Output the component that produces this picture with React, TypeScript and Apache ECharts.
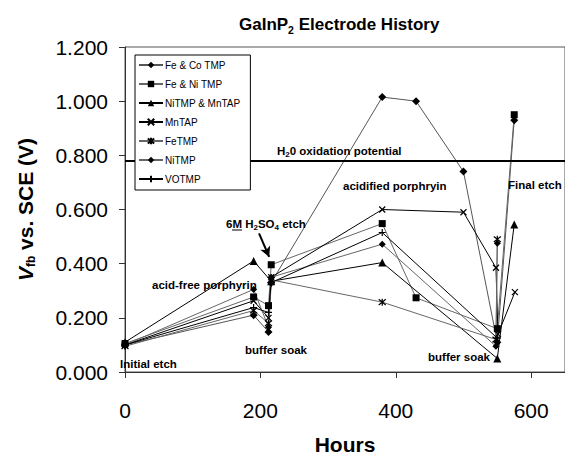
import React, { useEffect, useRef } from "react";
import * as echarts from "echarts";

// ---- data (hours, V_fb vs. SCE) ----
const seriesNames = ["Fe & Co TMP", "Fe & Ni TMP", "NiTMP & MnTAP", "MnTAP", "FeTMP", "NiTMP", "VOTMP"];

const feCoTMP = [[0, 0.1], [190, 0.21], [212, 0.148], [216, 0.33], [380, 1.015], [430, 1.0], [500, 0.74], [550, 0.11], [575, 0.93]];
const feNiTMP = [[0, 0.105], [190, 0.277], [212, 0.245], [216, 0.396], [380, 0.548], [430, 0.274], [550, 0.16], [575, 0.95]];
const niTMPMnTAP = [[0, 0.11], [190, 0.41], [216, 0.335], [380, 0.404], [550, 0.05], [575, 0.545]];
const mnTAP = [[0, 0.1], [190, 0.263], [212, 0.2], [216, 0.35], [380, 0.6], [500, 0.59], [548, 0.385], [551, 0.14], [576, 0.295]];
const feTMP = [[0, 0.095], [190, 0.227], [212, 0.18], [216, 0.34], [380, 0.258], [548, 0.12], [550, 0.49]];
const niTMP = [[0, 0.1], [190, 0.305], [212, 0.165], [216, 0.35], [380, 0.472], [548, 0.095], [550, 0.475]];
const voTMP = [[0, 0.1], [190, 0.238], [212, 0.22], [216, 0.33], [380, 0.515], [550, 0.125]];

const oxidationPotential = 0.775;
const etchArrow = [[198, 0.512], [213, 0.425]];

const xTicks = { min: 0, max: 650, interval: 200 };
const yTicks = { min: 0, max: 1.2, interval: 0.2 };

const FONT = "'Liberation Sans', Arial, Helvetica, sans-serif";

export default function App() {
  const ref = useRef<HTMLDivElement>(null);

  useEffect(() => {
    const chart = echarts.init(ref.current!, null, { renderer: "svg" });

    const X = "path://M0,0L8,8M8,0L0,8";
    const STAR = "path://M0,0L8,8M8,0L0,8M4,-1L4,9";
    const PLUS = "path://M4,0L4,8M0,4L8,4";

    const mk = (name: string, data: number[][], symbol: string, size: number, color: string, stroke: boolean) => ({
      name,
      type: "line",
      data,
      symbol,
      symbolSize: size,
      showAllSymbol: true,
      lineStyle: { color, width: 1 },
      itemStyle: { color: "#000", borderColor: "#000", borderWidth: stroke ? 1.2 : 0 },
      emphasis: { disabled: true },
      z: 3,
    });

    const series: any[] = [
      mk(seriesNames[0], feCoTMP, "diamond", 8, "#555", false),
      mk(seriesNames[1], feNiTMP, "rect", 7, "#666", false),
      mk(seriesNames[2], niTMPMnTAP, "triangle", 8, "#000", false),
      mk(seriesNames[3], mnTAP, X, 6, "#000", true),
      mk(seriesNames[4], feTMP, STAR, 7, "#666", true),
      mk(seriesNames[5], niTMP, "diamond", 7, "#666", false),
      mk(seriesNames[6], voTMP, PLUS, 7, "#000", true),
    ];

    series[1].markLine = {
      silent: true,
      symbol: ["none", "none"],
      label: { show: false },
      lineStyle: { color: "#000", width: 2, type: "solid" },
      data: [{ yAxis: oxidationPotential }],
    };
    series[0].markLine = {
      silent: true,
      symbol: ["none", "arrow"],
      symbolSize: [8, 10],
      label: { show: false },
      lineStyle: { color: "#000", width: 2, type: "solid" },
      data: [[{ coord: etchArrow[0] }, { coord: etchArrow[1] }]],
    };

    const lab = { fontSize: 11.5, fontWeight: "bold", fontFamily: FONT, lineHeight: 14, fill: "#000" } as any;
    const sub = { fontSize: 8, fontWeight: "bold", fontFamily: FONT, lineHeight: 7, verticalAlign: "bottom", fill: "#000" } as any;
    const txt = (x: number, y: number, text: string) => ({
      type: "text",
      x,
      y,
      z: 10,
      style: { text, fill: "#000", verticalAlign: "middle", rich: { a: lab, s: sub }, font: `bold 11.5px ${FONT}` },
    });

    chart.setOption({
      animation: false,
      backgroundColor: "#fff",
      textStyle: { fontFamily: FONT },
      title: {
        text: "{a|GaInP}{s|2}{a| Electrode History}",
        left: 234,
        top: 9,
        textStyle: {
          rich: {
            a: { fontSize: 17, fontWeight: "bold", fontFamily: FONT, color: "#000", lineHeight: 21 },
            s: { fontSize: 10.5, fontWeight: "bold", fontFamily: FONT, color: "#000", lineHeight: 9, verticalAlign: "bottom" },
          },
        },
      },
      legend: {
        data: seriesNames,
        orient: "vertical",
        left: 135,
        top: 55,
        z: 50,
        itemWidth: 24,
        itemHeight: 8,
        itemGap: 7,
        padding: [4, 10, 5, 3],
        borderColor: "#000",
        borderWidth: 1,
        backgroundColor: "#fff",
        textStyle: { fontSize: 10, lineHeight: 12, fontFamily: FONT, color: "#000", padding: [0, 0, 0, -3] },
        selectedMode: false,
      },
      grid: {
        left: 125,
        top: 47,
        width: 448.5,
        height: 333,
        show: true,
        borderColor: "#555",
        borderWidth: 1,
        containLabel: false,
      },
      xAxis: {
        type: "value",
        min: xTicks.min,
        max: xTicks.max,
        interval: xTicks.interval,
        name: "Hours",
        nameLocation: "middle",
        nameGap: 62,
        nameTextStyle: { fontSize: 21, fontWeight: "bold", fontFamily: FONT, color: "#000" },
        axisLine: { show: true, lineStyle: { color: "#333", width: 1 } },
        axisTick: { show: true, length: 6, lineStyle: { color: "#333" } },
        axisLabel: { fontSize: 21, color: "#000", margin: 28, fontFamily: FONT, showMaxLabel: false },
        splitLine: { show: false },
      },
      yAxis: {
        type: "value",
        min: yTicks.min,
        max: yTicks.max,
        interval: yTicks.interval,
        name: "{v|V}{s|fb}{n| vs. SCE (V)}",
        nameLocation: "middle",
        nameGap: 88,
        nameTextStyle: {
          rich: {
            v: { fontSize: 21, fontWeight: "bold", fontStyle: "italic", fontFamily: FONT, color: "#000", lineHeight: 24 },
            s: { fontSize: 12, fontWeight: "bold", fontFamily: FONT, color: "#000", lineHeight: 12, verticalAlign: "bottom" },
            n: { fontSize: 21, fontWeight: "bold", fontFamily: FONT, color: "#000", lineHeight: 24 },
          },
        },
        axisLine: { show: true, lineStyle: { color: "#333", width: 1 } },
        axisTick: { show: true, length: 6, lineStyle: { color: "#333" } },
        axisLabel: { fontSize: 21, color: "#000", margin: 17, fontFamily: FONT, formatter: (v: number) => v.toFixed(3) },
        splitLine: { show: false },
      },
      graphic: [
        txt(120, 364, "Initial etch"),
        txt(152, 285, "acid-free porphyrin"),
        txt(226, 224, "{a|6M H}{s|2}{a|SO}{s|4}{a| etch}"),
        { type: "line", z: 10, shape: { x1: 232, y1: 230, x2: 242, y2: 230 }, style: { stroke: "#000", lineWidth: 1 } },
        txt(245, 350, "buffer soak"),
        txt(277, 151, "{a|H}{s|2}{a|0 oxidation potential}"),
        txt(343, 186, "acidified porphryin"),
        txt(428, 357, "buffer soak"),
        txt(508, 185, "Final etch"),
      ],
      series,
    });

    return () => chart.dispose();
  }, []);

  return <div ref={ref} style={{ position: "fixed", left: 0, top: 0, width: 565, height: 460 }} />;
}
